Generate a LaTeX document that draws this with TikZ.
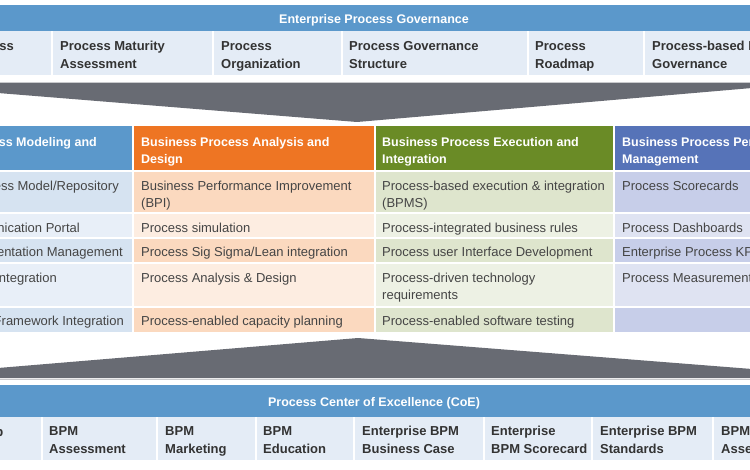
\documentclass[tikz,border=0pt]{standalone}
\usepackage{fontspec}
\setmainfont{Liberation Sans}
\definecolor{bandblue}{HTML}{5B98CB}
\definecolor{lightcell}{HTML}{E4ECF6}
\definecolor{chevgray}{HTML}{686B73}
\definecolor{chevline}{HTML}{C9CACD}
\definecolor{hdrA}{HTML}{5B98CB}
\definecolor{hdrB}{HTML}{EE7523}
\definecolor{hdrC}{HTML}{6A8B26}
\definecolor{hdrD}{HTML}{5673B8}
\definecolor{cAa}{HTML}{D6E3F1}
\definecolor{cAb}{HTML}{E8EFF8}
\definecolor{cBa}{HTML}{FBD9BF}
\definecolor{cBb}{HTML}{FDEDE1}
\definecolor{cCa}{HTML}{DEE5CD}
\definecolor{cCb}{HTML}{EDF1E4}
\definecolor{cDa}{HTML}{C7CEE9}
\definecolor{cDb}{HTML}{DFE3F2}
\definecolor{txtdark}{HTML}{333333}
\definecolor{txtgray}{HTML}{454545}
\newcommand{\lnst}{\vphantom{Apgy}}
\newcommand{\twoln}[2]{#1\lnst\\#2\lnst}
\begin{document}
\begin{tikzpicture}[x=1pt,y=-1pt,
  bandtitle/.style={text=white,font=\fontsize{12.5}{17}\selectfont\bfseries,inner sep=0,yshift=-1.5pt},
  cellbold/.style={text=txtdark,font=\fontsize{13}{18}\selectfont\bfseries,inner sep=0,align=left,anchor=west,yshift=-2pt},
  cellreg/.style={text=txtgray,font=\fontsize{13}{17}\selectfont,inner sep=0,align=left,anchor=west,yshift=-1.5pt},
  cellregE/.style={cellreg,anchor=east},
  headtxt/.style={text=white,font=\fontsize{12.5}{17}\selectfont\bfseries,inner sep=0,align=left,anchor=west,yshift=-1.5pt},
  sepline/.style={draw=white,line width=1.4pt}]
\useasboundingbox (0,0) rectangle (750,469);
\fill[white] (0,0) rectangle (750,469);
\clip (0,0) rectangle (750,469);

% ---------- top band ----------
\fill[bandblue] (-10,5) rectangle (760,31);
\node[bandtitle] (toptitle) at (374,19) {Enterprise Process Governance};
\fill[lightcell] (-10,31) rectangle (760,75);
\foreach \x in {52,213,342,528,644} \draw[sepline] (\x,31) -- (\x,75);
\node[cellbold,anchor=east] (t0) at (14,45) {Process\lnst};
\node[cellbold] (t1) at (60,54) {\twoln{Process Maturity}{Assessment}};
\node[cellbold] (t2) at (221,54) {\twoln{Process}{Organization}};
\node[cellbold] (t3) at (349,54) {\twoln{Process Governance}{Structure}};
\node[cellbold] (t4) at (535,54) {\twoln{Process}{Roadmap}};
\node[cellbold] (t5) at (652,54) {\twoln{Process-based Performance}{Governance}};

% ---------- top chevron ----------
\draw[chevline,line width=1pt] (-2,82) -- (752,82);
\fill[chevgray,rounded corners=2pt] (-2,83) -- (752,83) -- (752,88) -- (357,122) -- (-2,93) -- cycle;

% ---------- table ----------
\fill[hdrA] (-110,126) rectangle (133,171);
\fill[hdrB] (133,126) rectangle (375,171);
\fill[hdrC] (375,126) rectangle (614,171);
\fill[hdrD] (614,126) rectangle (860,171);
\foreach \ya/\yb/\s in {171/213/a,213/238/b,238/263/a,263/307/b,307/332/a}{
  \fill[cA\s] (-110,\ya) rectangle (133,\yb);
  \fill[cB\s] (133,\ya) rectangle (375,\yb);
  \fill[cC\s] (375,\ya) rectangle (614,\yb);
  \fill[cD\s] (614,\ya) rectangle (860,\yb);
}
\foreach \y in {171,213,238,263,307} \draw[sepline] (-110,\y) -- (860,\y);
\foreach \x in {133,375,614} \draw[sepline] (\x,126) -- (\x,332);

% header texts
\node[headtxt,anchor=east] (h0) at (97,142) {Business Process Modeling and\lnst};
\node[headtxt] (h1) at (141,150.5) {\twoln{Business Process Analysis and}{Design}};
\node[headtxt] (h2) at (382,150.5) {\twoln{Business Process Execution and}{Integration}};
\node[headtxt] (h3) at (622,150.5) {\twoln{Business Process Performance}{Management}};

% column A (clipped at left)
\node[cellregE] (a1) at (119,185.5) {Business Process Model/Repository\lnst};
\node[cellregE] (a2) at (80,227.5) {Process Communication Portal\lnst};
\node[cellregE] (a3) at (123,252) {Process Documentation Management\lnst};
\node[cellregE] (a4) at (57,277.5) {Process Integration\lnst};
\node[cellregE] (a5) at (124,320.5) {Enterprise Framework Integration\lnst};

% column B
\node[cellreg] (b1) at (141,194) {\twoln{Business Performance Improvement}{(BPI)}};
\node[cellreg] (b2) at (141,227.5) {Process simulation\lnst};
\node[cellreg] (b3) at (141,252) {Process Sig Sigma/Lean integration\lnst};
\node[cellreg] (b4) at (141,277.5) {Process Analysis \& Design\lnst};
\node[cellreg] (b5) at (141,320.5) {Process-enabled capacity planning\lnst};

% column C
\node[cellreg] (c1) at (382,194) {\twoln{Process-based execution \& integration}{(BPMS)}};
\node[cellreg] (c2) at (382,227.5) {Process-integrated business rules\lnst};
\node[cellreg] (c3) at (382,252) {Process user Interface Development\lnst};
\node[cellreg] (c4) at (382,286) {\twoln{Process-driven technology}{requirements}};
\node[cellreg] (c5) at (382,320.5) {Process-enabled software testing\lnst};

% column D (clipped at right)
\node[cellreg] (d1) at (622,185.5) {Process Scorecards\lnst};
\node[cellreg] (d2) at (622,227.5) {Process Dashboards\lnst};
\node[cellreg] (d3) at (622,252) {Enterprise Process KPIs\lnst};
\node[cellreg] (d4) at (622,277.5) {Process Measurement\lnst};

% ---------- bottom chevron ----------
\fill[chevgray,rounded corners=2pt] (-2,378) -- (752,378) -- (752,369) -- (358,338) -- (-2,368) -- cycle;
\draw[chevline,line width=1pt] (-2,379.5) -- (752,379.5);

% ---------- bottom band ----------
\fill[bandblue] (-10,385) rectangle (760,417);
\node[bandtitle] (bottitle) at (374,402) {Process Center of Excellence (CoE)};
\fill[lightcell] (-10,417) rectangle (760,460);
\foreach \x in {42,157,256,354,484,592,713} \draw[sepline] (\x,417) -- (\x,460);
\node[cellbold,anchor=east] (s0) at (3.5,431) {Roadmap\lnst};
\node[cellbold] (s1) at (49,439.5) {\twoln{BPM}{Assessment}};
\node[cellbold] (s2) at (165,439.5) {\twoln{BPM}{Marketing}};
\node[cellbold] (s3) at (263,439.5) {\twoln{BPM}{Education}};
\node[cellbold] (s4) at (362,439.5) {\twoln{Enterprise BPM}{Business Case}};
\node[cellbold] (s5) at (491,439.5) {\twoln{Enterprise}{BPM Scorecard}};
\node[cellbold] (s6) at (600,439.5) {\twoln{Enterprise BPM}{Standards}};
\node[cellbold] (s7) at (721,439.5) {\twoln{BPM}{Assets}};
\end{tikzpicture}
\end{document}
